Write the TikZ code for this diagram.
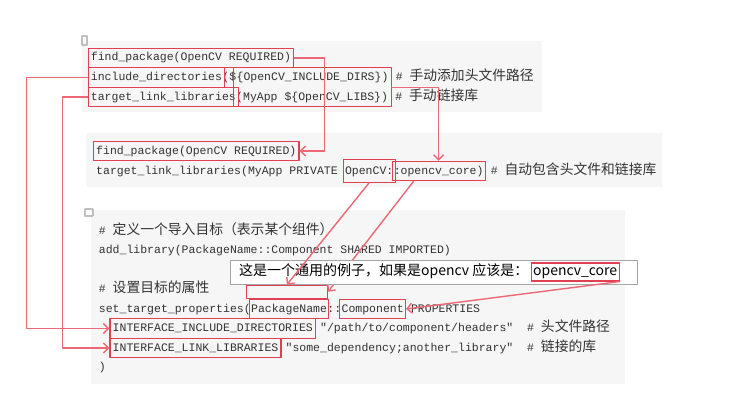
\documentclass[tikz,border=0pt]{standalone}
\usepackage{fontspec}
\newfontfamily\codefont{Liberation Mono}
\newfontfamily\cjkfont{Noto Sans CJK SC}
\usetikzlibrary{arrows.meta,calc,fit,positioning}
\definecolor{boxred}{RGB}{224,64,82}
\definecolor{linkred}{RGB}{236,104,118}
\definecolor{panelgray}{RGB}{246,246,247}
\definecolor{codegray}{RGB}{51,51,51}
\definecolor{framegray}{RGB}{165,165,165}
\newcommand{\zh}[1]{{\cjkfont\fontsize{13.8}{16}\selectfont #1}}

\begin{document}
\begin{tikzpicture}[x=1pt, y=-1pt, line cap=round, line join=round,
  code/.style={inner sep=0pt, text height=9pt, text depth=3pt, anchor=base west,
    text=codegray, font={\codefont\fontsize{11.5}{14}\selectfont}},
  redbox/.style={draw=boxred, line width=1.1pt, inner xsep=2.5pt, inner ysep=3.5pt},
  link/.style={draw=linkred, line width=1.4pt, -{Straight Barb[length=5pt,width=10pt]}},
  calltext/.style={inner sep=0pt, text height=10pt, text depth=3pt,
    font={\cjkfont\fontsize{14}{17}\selectfont}},
  callframe/.style={draw=framegray, fill=white, line width=0.8pt, inner sep=0pt}]
  \useasboundingbox (0,0) rectangle (743,409);
  % Code panels.
  \fill[panelgray] (82,41) rectangle (542,112);
  \fill[panelgray] (86,133) rectangle (662,187);
  \fill[panelgray] (91,210) rectangle (625,384);
  \draw[gray!55, densely dotted, line width=1.2pt] (82,36) rectangle (87,45);
  \draw[gray!55, densely dotted, line width=1.2pt] (85,209) rectangle (93,216);

  % Manual linking.
  \node[code] (fpAtxt) at (90.7,61) {find\_package(OpenCV REQUIRED)};
  \node[code] (incdirtxt) at (90.7,80.5) {include\_directories};
  \node[code, right=0pt of incdirtxt] (incparen) {(\$};
  \node[code, right=0pt of incparen] (incargs) {\{OpenCV\_INCLUDE\_DIRS\})};
  \node[code, right=0pt of incargs] (inccmt) {~\#~\zh{手动添加头文件路径}};
  \node[code] (tlltxt) at (90.7,100) {target\_link\_libraries};
  \node[code, right=0pt of tlltxt] (tllargs) {(MyApp \$\{OpenCV\_LIBS\})};
  \node[code, right=0pt of tllargs] (tllcmt) {~\#~\zh{手动链接库}};
  \node[redbox, fit=(fpAtxt)] (fpA) {};
  \node[redbox, fit=(incdirtxt)] (incdir) {};
  \node[redbox, fit=(tlltxt)] (tll) {};
  \node[redbox, fit=(incargs)(tllargs)] (vars) {};

  % Imported target.
  \node[code] (fpBtxt) at (96,154) {find\_package(OpenCV REQUIRED)};
  \node[code] (tllBtxt) at (96,174) {target\_link\_libraries(MyApp PRIVATE~\null};
  \node[code, right=0pt of tllBtxt] (nstxt) {OpenCV:};
  \node[code, right=0pt of nstxt] (coretxt) {:opencv\_core)};
  \node[code, right=0pt of coretxt] (tllBcmt) {~\#~\zh{自动包含头文件和链接库}};
  \node[redbox, fit=(fpBtxt)] (fpB) {};
  \node[redbox, inner xsep=1.5pt, inner ysep=5pt, fit=(nstxt)] (ocvns) {};
  \node[redbox, inner xsep=1.5pt, fit=(coretxt)] (ocvcore) {};

  % Generic definition.
  \node[code] (cmtA) at (98.7,234) {\#~\zh{定义一个导入目标（表示某个组件）}};
  \node[code] (addlib) at (98.7,253.5) {add\_library(PackageName::Component SHARED IMPORTED)};
  \node[code] (cmtB) at (98.7,292.5) {\#~\zh{设置目标的属性}};
  \node[code] (stp) at (98.7,312) {set\_target\_properties(};
  \node[code, right=0pt of stp] (pkgtxt) {PackageName};
  \node[code, right=0pt of pkgtxt] (colons) {::};
  \node[code, right=0pt of colons] (comptxt) {Component};
  \node[code, right=0pt of comptxt] (props) {~PROPERTIES};
  \node[code] (iidtxt) at (112.5,331.5) {INTERFACE\_INCLUDE\_DIRECTORIES};
  \node[code, right=0pt of iidtxt] (iidval) {~"/path/to/component/headers"~~\#~\zh{头文件路径}};
  \node[code] (illtxt) at (112.5,351) {INTERFACE\_LINK\_LIBRARIES};
  \node[code, right=0pt of illtxt] (illval) {~"some\_dependency;another\_library"~~\#~\zh{链接的库}};
  \node[code] (closing) at (98.7,370.5) {)};
  \node[redbox, inner xsep=1.5pt, fit=(pkgtxt)] (pkgname) {};
  \node[redbox, inner xsep=1.5pt, fit=(comptxt)] (comp) {};
  \node[redbox, fit=(iidtxt)] (iid) {};
  \node[redbox, fit=(illtxt)] (ill) {};
  \node[redbox, inner sep=0pt, minimum width=81pt, minimum height=13pt, anchor=south west]
    (slot) at ($(pkgname.north west)+(-3,0)$) {};

  % Links.
  \draw[link] (fpA.east) -- ++(30,0) |- (fpB.east);
  \draw[link] (incdir.west) -- ++(-61,0) |- (iid.west);
  \draw[link] (tll.west) -- ++(-25,0) |- (ill.west);
  \draw[link] (vars.east) -| (ocvcore.north);
  \draw[link] ([xshift=-25pt]ocvcore.south) -- (slot.east);

  % Note.
  \node[callframe, minimum width=407pt, minimum height=24pt, anchor=north west] (callout) at (230,260) {};
  \node[calltext, anchor=west] (notetxt) at (239,272) {这是一个通用的例子，如果是opencv 应该是：};
  \node[calltext, redbox, inner xsep=2pt, inner ysep=2.5pt, right=2pt of notetxt] (cvcore) {opencv\_core};
  \draw[link] (ocvns.south) -- (slot.north);
  \draw[link] (cvcore.south east) -- (comp.east);
\end{tikzpicture}
\end{document}
